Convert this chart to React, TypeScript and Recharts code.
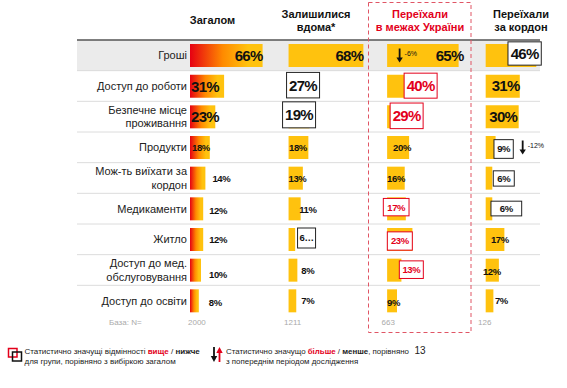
import { BarChart, Bar, XAxis, YAxis, LabelList } from "recharts";

const CATEGORIES = [
  "Гроші",
  "Доступ до роботи",
  "Безпечне місце\nпроживання",
  "Продукти",
  "Мож-ть виїхати за\nкордон",
  "Медикаменти",
  "Житло",
  "Доступ до мед.\nобслуговування",
  "Доступ до освіти",
];

const TOTAL = [66, 31, 23, 18, 14, 12, 12, 10, 8];
const STAYED = [68, 27, 19, 18, 13, 11, 6, 8, 7];
const MOVED_UA = [65, 40, 29, 20, 16, 17, 23, 13, 9];
const MOVED_ABROAD = [46, 31, 30, 9, 6, 6, 17, 12, 7];

// significance vs total: "hi" = higher, "lo" = lower
const SIG_TOTAL = ["", "", "", "", "", "", "", "", ""];
const SIG_STAYED = ["", "lo", "lo", "", "", "", "lo", "", ""];
const SIG_MOVED_UA = ["", "hi", "hi", "", "", "hi", "hi", "hi", ""];
const SIG_ABROAD = ["lo", "", "", "lo", "lo", "lo", "", "", ""];

// change vs previous wave
const CHG_MOVED_UA = ["-6%", "", "", "", "", "", "", "", ""];
const CHG_ABROAD = ["", "", "", "-12%", "", "", "", "", ""];

const HEADERS = [["Загалом"], ["Залишилися", "вдома*"], ["Переїхали", "в межах України"], ["Переїхали", "за кордон"]];
const BASES = ["2000", "1211", "663", "126"];

const VALUES = [TOTAL, STAYED, MOVED_UA, MOVED_ABROAD];
const SIGS = [SIG_TOTAL, SIG_STAYED, SIG_MOVED_UA, SIG_ABROAD];
const CHANGES = [[], [], CHG_MOVED_UA, CHG_ABROAD];

const RED = "#E3001B";
const YELLOW = "#FFC20E";
const GAP = 89.6; // column pitch in % units
const ROW_H = 276 / CATEGORIES.length;
const LINE_X0 = 77;
const LINE_X1 = 540;

type Pos = { at: "in" | "start" | "end" | "box"; dx: number; big?: boolean; dy?: number; w?: number; h?: number; text?: string; arrowDx?: number };

// label placement per column / row
const LABEL_POS: Pos[][] = [
  [
    { at: "in", dx: 0, big: true },
    { at: "start", dx: 1, big: true },
    { at: "start", dx: 1, big: true },
    { at: "start", dx: 2 },
    { at: "end", dx: 7 },
    { at: "end", dx: 6, dy: 2 },
    { at: "end", dx: 6 },
    { at: "end", dx: 8, dy: 4 },
    { at: "end", dx: 10, dy: 2 },
  ],
  [
    { at: "in", dx: 0, big: true },
    { at: "box", dx: -2, w: 33, h: 25.5, dy: -1, big: true },
    { at: "box", dx: -6, w: 33, h: 26, dy: -2, big: true },
    { at: "start", dx: 0.5 },
    { at: "start", dx: 0 },
    { at: "end", dx: -1.5, dy: 1 },
    { at: "box", dx: 9, w: 18, h: 20, dy: -1.5, text: "6…" },
    { at: "end", dx: 4 },
    { at: "end", dx: 5 },
  ],
  [
    { at: "in", dx: 5, big: true, arrowDx: 12.5 },
    { at: "box", dx: 17, w: 33, h: 25, dy: -0.5, big: true },
    { at: "box", dx: 3, w: 33, h: 25.6, dy: -1, big: true },
    { at: "start", dx: 6 },
    { at: "start", dx: 0 },
    { at: "box", dx: -3.8, w: 25.7, h: 17.4, dy: -1.7 },
    { at: "box", dx: 0.2, w: 25, h: 18.3, dy: 1.5 },
    { at: "box", dx: 12.2, w: 24, h: 17.6, dy: -0.5 },
    { at: "start", dx: 0, dy: 2 },
  ],
  [
    { at: "box", dx: 22.3, w: 33.3, h: 23.3, dy: -2, big: true },
    { at: "start", dx: 6, dy: -1, big: true },
    { at: "start", dx: 3.6, big: true },
    { at: "box", dx: 8.3, w: 19.3, h: 18.7, dy: 1.5, arrowDx: 37 },
    { at: "box", dx: 7.6, w: 21, h: 15.3, dy: 0.3 },
    { at: "box", dx: 5.3, w: 30.7, h: 14.7, dy: -0.3 },
    { at: "start", dx: 5.3 },
    { at: "start", dx: -2.7, dy: 1.7 },
    { at: "start", dx: 9.3 },
  ],
];

const rows = CATEGORIES.map((name, i) => ({
  name,
  c0: TOTAL[i],
  p0: GAP - TOTAL[i],
  c1: STAYED[i],
  p1: GAP - STAYED[i],
  c2: MOVED_UA[i],
  p2: GAP - MOVED_UA[i],
  c3: MOVED_ABROAD[i],
}));

const renderLabel = (col: number) => (props: any) => {
  const vb = props.viewBox ?? props;
  const { x, y, width, height } = vb;
  const i = props.index;
  const pos = LABEL_POS[col][i];
  const sig = SIGS[col][i];
  const chg = CHANGES[col][i];
  const fs = pos.big ? 15 : 9.5;
  const ls = pos.big ? -0.7 : -0.4;
  const cy = y + height / 2 + (pos.dy ?? 0);
  const text = pos.text ?? `${VALUES[col][i]}%`;
  let body;
  if (pos.at === "box") {
    const bx = x + pos.dx;
    const bw = pos.w ?? 30;
    const bh = pos.h ?? 20;
    const c = sig === "hi" ? RED : "#222";
    body = (
      <g>
        <rect x={bx} y={cy - bh / 2} width={bw} height={bh} fill="#fff" stroke={c} strokeWidth={1} />
        <text x={bx + bw / 2} y={cy} dy="0.36em" textAnchor="middle" fontSize={fs} fontWeight="bold" letterSpacing={ls} fill={sig === "hi" ? RED : "#111"}>
          {text}
        </text>
      </g>
    );
  } else {
    const tx = pos.at === "start" ? x + pos.dx : x + width + pos.dx;
    body = (
      <text x={tx} y={cy} dy="0.36em" textAnchor={pos.at === "in" ? "end" : "start"} fontSize={fs} fontWeight="bold" letterSpacing={ls} fill="#111">
        {text}
      </text>
    );
  }
  let arrow = null;
  if (chg && pos.arrowDx !== undefined) {
    const ax = x + pos.arrowDx;
    const ay = y + height / 2;
    arrow = (
      <g>
        <line x1={ax} x2={ax} y1={ay - 7} y2={ay + 3} stroke="#111" strokeWidth={1.8} />
        <polygon points={`${ax - 3.2},${ay + 2} ${ax + 3.2},${ay + 2} ${ax},${ay + 7}`} fill="#111" />
        <text x={ax + 5} y={ay - 1.5} dy="0.35em" fontSize={7} fill="#111">
          {chg}
        </text>
      </g>
    );
  }
  return (
    <g>
      {body}
      {arrow}
    </g>
  );
};

const RowTick = (props: any) => {
  const { x, y, payload } = props;
  const index = props.index ?? payload.index;
  const lines = String(payload.value).split("\n");
  const top = y - ROW_H / 2;
  const bottom = y + ROW_H / 2;
  return (
    <g>
      {index === 0 && <line x1={LINE_X0} x2={LINE_X1} y1={top} y2={top} stroke="#555" strokeWidth={1.5} />}
      {index < CATEGORIES.length - 1 && <line x1={LINE_X0} x2={LINE_X1} y1={bottom} y2={bottom} stroke="#DCDCDC" strokeWidth={1} />}
      <text x={x} y={y} textAnchor="end" fontSize={11} fill="#222">
        {lines.map((l, k) => (
          <tspan key={k} x={x} dy={k === 0 ? `${0.36 - (lines.length - 1) * 0.6}em` : "1.2em"}>
            {l}
          </tspan>
        ))}
      </text>
    </g>
  );
};

const HEADER_X = [212.5, 316, 420, 521];
const BASE_X = [188, 284, 381.5, 478];

export default function App() {
  return (
    <div style={{ position: "absolute", left: 0, top: 0, width: 567, height: 388, background: "#fff", fontFamily: "'Liberation Sans', Arial, sans-serif", overflow: "hidden" }}>
      <div style={{ position: "absolute", left: LINE_X0, top: 40, width: LINE_X1 - LINE_X0, height: ROW_H, background: "#EBEBEB" }} />
      <div style={{ position: "absolute", left: 0, top: 0 }}>
        <BarChart width={567} height={388} data={rows} layout="vertical" margin={{ top: 40, right: 3, bottom: 72, left: 0 }} barSize={23}>
          <defs>
            <linearGradient id="totalGrad" x1="0" y1="0" x2="1" y2="0">
              <stop offset="0" stopColor="#E60012" />
              <stop offset="0.45" stopColor="#FF8A00" />
              <stop offset="0.8" stopColor={YELLOW} />
              <stop offset="1" stopColor={YELLOW} />
            </linearGradient>
          </defs>
          <XAxis type="number" hide domain={[0, 340]} />
          <YAxis type="category" dataKey="name" width={190} axisLine={false} tickLine={false} tickSize={0} tickMargin={3} interval={0} tick={<RowTick />} />
          <Bar dataKey="c0" stackId="s" fill="url(#totalGrad)" isAnimationActive={false}>
            <LabelList dataKey="c0" content={renderLabel(0)} />
          </Bar>
          <Bar dataKey="p0" stackId="s" fill="transparent" isAnimationActive={false} />
          <Bar dataKey="c1" stackId="s" fill={YELLOW} isAnimationActive={false}>
            <LabelList dataKey="c1" content={renderLabel(1)} />
          </Bar>
          <Bar dataKey="p1" stackId="s" fill="transparent" isAnimationActive={false} />
          <Bar dataKey="c2" stackId="s" fill={YELLOW} isAnimationActive={false}>
            <LabelList dataKey="c2" content={renderLabel(2)} />
          </Bar>
          <Bar dataKey="p2" stackId="s" fill="transparent" isAnimationActive={false} />
          <Bar dataKey="c3" stackId="s" fill={YELLOW} isAnimationActive={false}>
            <LabelList dataKey="c3" content={renderLabel(3)} />
          </Bar>
        </BarChart>
      </div>

      {HEADERS.map((h, k) => (
        <div
          key={k}
          style={{
            position: "absolute",
            left: HEADER_X[k] - 60,
            width: 120,
            top: h.length === 1 ? 13.5 : 7.5,
            textAlign: "center",
            fontSize: 11,
            lineHeight: "13px",
            fontWeight: "bold",
            color: k === 2 ? RED : "#111",
          }}
        >
          {h.map((l, j) => (
            <div key={j}>{l}</div>
          ))}
        </div>
      ))}

      <div style={{ position: "absolute", left: 109, top: 318, fontSize: 8, lineHeight: "10px", color: "#AAA" }}>База: N=</div>
      {BASES.map((b, k) => (
        <div key={b} style={{ position: "absolute", left: BASE_X[k], top: 318, fontSize: 8, lineHeight: "10px", color: "#AAA" }}>
          {b}
        </div>
      ))}

      <svg width={567} height={388} style={{ position: "absolute", left: 0, top: 0, pointerEvents: "none" }}>
        <rect x={368.5} y={2.5} width={102.5} height={330} fill="none" stroke="#E05565" strokeWidth={1} strokeDasharray="4 3" />
        <rect x={8.5} y={348.5} width={8.5} height={8.5} fill="none" stroke={RED} strokeWidth={1.5} />
        <rect x={12.5} y={352} width={9} height={9} fill="none" stroke="#111" strokeWidth={1.5} />
        <line x1={214} x2={214} y1={347} y2={358} stroke="#111" strokeWidth={1.8} />
        <polygon points="210.8,356 217.2,356 214,362" fill="#111" />
        <line x1={219.5} x2={219.5} y1={351} y2={362} stroke={RED} strokeWidth={1.8} />
        <polygon points="216.3,353 222.7,353 219.5,347" fill={RED} />
      </svg>

      <div style={{ position: "absolute", left: 24.5, top: 346.5, fontSize: 8, lineHeight: "10.2px", color: "#222", whiteSpace: "nowrap" }}>
        <div>
          Статистично значущі відмінності <b style={{ color: RED }}>вище</b> / <b>нижче</b>
        </div>
        <div>для групи, порівняно з вибіркою загалом</div>
      </div>
      <div style={{ position: "absolute", left: 226, top: 346.5, fontSize: 7.9, lineHeight: "10.2px", color: "#222", whiteSpace: "nowrap" }}>
        <div>
          Статистично значущо <b style={{ color: RED }}>більше</b> / <b>менше</b>, порівняно
        </div>
        <div>з попереднім періодом дослідження</div>
      </div>
      <div style={{ position: "absolute", left: 414.5, top: 345, fontSize: 10, lineHeight: "12px", color: "#222" }}>13</div>
    </div>
  );
}
